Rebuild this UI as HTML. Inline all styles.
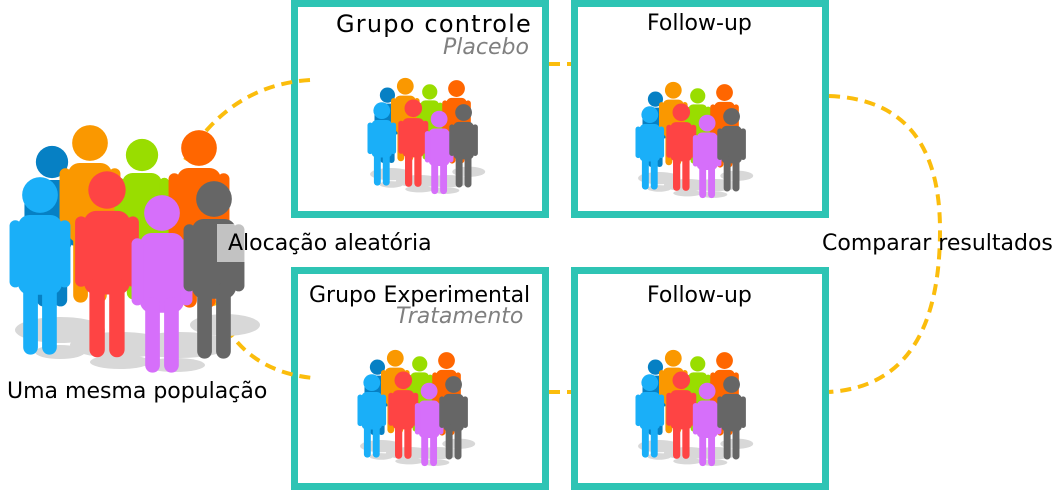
<!DOCTYPE html>
<html><head><meta charset="utf-8"><style>
body{margin:0;width:1054px;height:503px;background:#fff;overflow:hidden;position:relative;font-family:"DejaVu Sans","Liberation Sans",sans-serif}
.box{position:absolute;border:7px solid #2ec4b4;box-sizing:border-box;background:#fff}
.t{position:absolute;font-size:22px;color:#000;white-space:nowrap}
.s{position:absolute;font-size:22px;font-style:italic;color:#808080;white-space:nowrap}
svg{position:absolute;left:0;top:0}
</style></head><body>
<div class="box" style="left:291px;top:0;width:258px;height:218px"></div>
<div class="box" style="left:571px;top:0;width:258px;height:218px"></div>
<div class="box" style="left:291px;top:267px;width:258px;height:223px"></div>
<div class="box" style="left:571px;top:267px;width:258px;height:223px"></div>
<svg width="1054" height="503" viewBox="0 0 1054 503">
<defs>
<g id="p">
<circle cx="0" cy="0" r="17"/>
<rect x="-21" y="19" width="42" height="76" rx="11"/>
<rect x="-29" y="24" width="11" height="64" rx="5.5"/>
<rect x="18" y="24" width="11" height="64" rx="5.5"/>
<rect x="-16" y="80" width="14" height="72" rx="7"/>
<rect x="2" y="80" width="14" height="72" rx="7"/>
</g>
<g id="grp">
<g fill="#d8d8d8">
<ellipse cx="60" cy="330" rx="45" ry="13"/><ellipse cx="120" cy="345" rx="50" ry="13"/>
<ellipse cx="180" cy="345" rx="50" ry="13"/><ellipse cx="225" cy="325" rx="35" ry="11"/>
<ellipse cx="60" cy="352" rx="25" ry="7"/><ellipse cx="120" cy="362" rx="30" ry="7"/><ellipse cx="175" cy="365" rx="30" ry="7"/>
</g>
<use href="#p" fill="#0680c4" transform="translate(52,162) scale(0.95)"/>
<use href="#p" fill="#fa9800" transform="translate(90,143) scale(1.05)"/>
<use href="#p" fill="#99dd00" transform="translate(142,155) scale(0.95)"/>
<use href="#p" fill="#ff6600" transform="translate(199,148) scale(1.05)"/>
<use href="#p" fill="#1aaff8" transform="translate(40,195) scale(1.05)"/>
<use href="#p" fill="#fe4444" transform="translate(107,190) scale(1.1)"/>
<use href="#p" fill="#d66ffa" transform="translate(162,213) scale(1.05)"/>
<use href="#p" fill="#666666" transform="translate(214,199) scale(1.05)"/>
</g>
</defs>
<g fill="none" stroke="#fbbd0c" stroke-width="4" stroke-dasharray="11 7">
<path d="M310 80 Q230 85 185 160"/>
<path d="M212 295 Q235 370 313 378"/>
<path d="M549 64 L571 64"/>
<path d="M549 392 L571 392"/>
<path d="M829 96 Q940 100 940 230 Q940 385 829 392"/>
</g>
<use href="#grp"/>
<rect x="217" y="224" width="30" height="38" fill="#fff" opacity="0.6"/>
<use href="#grp" transform="translate(363,19) scale(0.47)"/>
<use href="#grp" transform="translate(631,23) scale(0.47)"/>
<use href="#grp" transform="translate(353,291) scale(0.47)"/>
<use href="#grp" transform="translate(631,291) scale(0.47)"/>
</svg>
<div class="t" style="left:336px;top:10px;font-size:24px;letter-spacing:1.2px">Grupo controle</div>
<div class="s" style="left:443px;top:35px">Placebo</div>
<div class="t" style="left:647px;top:11px">Follow-up</div>
<div class="t" style="left:309px;top:283px">Grupo Experimental</div>
<div class="s" style="left:396px;top:304px">Tratamento</div>
<div class="t" style="left:647px;top:283px">Follow-up</div>
<div class="t" style="left:228px;top:231px">Alocação aleatória</div>
<div class="t" style="left:822px;top:231px">Comparar resultados</div>
<div class="t" style="left:7px;top:379px">Uma mesma população</div>
</body></html>
